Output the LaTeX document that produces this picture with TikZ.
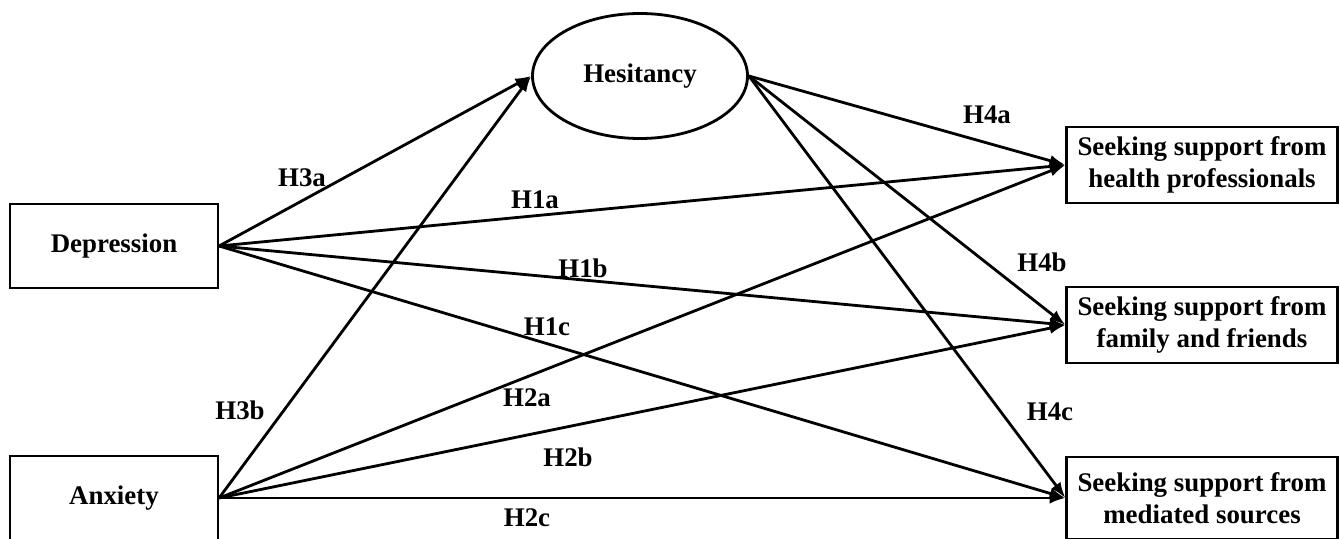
\documentclass[tikz,border=0pt]{standalone}
\usepackage{fontspec}
\setmainfont{Liberation Serif}
\usetikzlibrary{arrows.meta,positioning,shapes.geometric}

\begin{document}
\begin{tikzpicture}[
  font=\fontsize{15.3}{18.5}\selectfont\bfseries,
  box/.style={draw,line width=1.2pt,minimum width=4.16cm,minimum height=1.68cm,inner sep=0pt},
  goal/.style={draw,line width=1.2pt,minimum width=5.42cm,minimum height=1.52cm,inner sep=0pt,align=center},
  latent/.style={draw,ellipse,line width=1.6pt,minimum width=4.3cm,minimum height=2.5cm,inner sep=0pt},
  hyp/.style={inner sep=1pt},
  flow/.style={-{Latex[length=9pt,width=6.5pt]},line width=1.6pt}
]
\useasboundingbox (0,0) rectangle (26.8,10.76);
\node[box] (dep) at (2.28,5.84) {Depression};
\node[box] (anx) at (2.28,0.80) {Anxiety};
\node[latent] (hes) at (12.80,9.24) {Hesitancy};
\node[goal] (hp) at (24.04,7.46) {Seeking support from\\health professionals};
\node[goal] (ff) at (24.04,4.26) {Seeking support from\\family and friends};
\node[goal,minimum height=1.64cm] (ms) at (24.04,0.80) {Seeking support from\\mediated sources};

\draw[flow] (dep.east) -- (hes.west);
\draw[flow] (anx.east) -- (hes.west);
\draw[flow] (dep.east) -- (hp.west);
\draw[flow] (dep.east) -- (ff.west);
\draw[flow] (dep.east) -- (ms.west);
\draw[flow] (anx.east) -- (hp.west);
\draw[flow] (anx.east) -- (ff.west);
\draw[flow] (anx.east) -- (ms.west);
\draw[flow] (hes.east) -- (hp.west);
\draw[flow] (hes.east) -- (ff.west);
\draw[flow] (hes.east) -- (ms.west);

\node[hyp] (h3a) at (6.04,7.20) {H3a};
\node[hyp] (h3b) at (4.80,2.56) {H3b};
\node[hyp] (h1a) at (10.70,6.76) {H1a};
\node[hyp] (h1b) at (11.66,5.40) {H1b};
\node[hyp] (h1c) at (10.94,4.22) {H1c};
\node[hyp] (h2a) at (10.54,2.80) {H2a};
\node[hyp] (h2b) at (11.36,1.62) {H2b};
\node[hyp] (h2c) at (10.54,0.40) {H2c};
\node[hyp] (h4a) at (19.74,8.46) {H4a};
\node[hyp] (h4b) at (20.84,5.52) {H4b};
\node[hyp] (h4c) at (21.00,2.52) {H4c};
\end{tikzpicture}
\end{document}
